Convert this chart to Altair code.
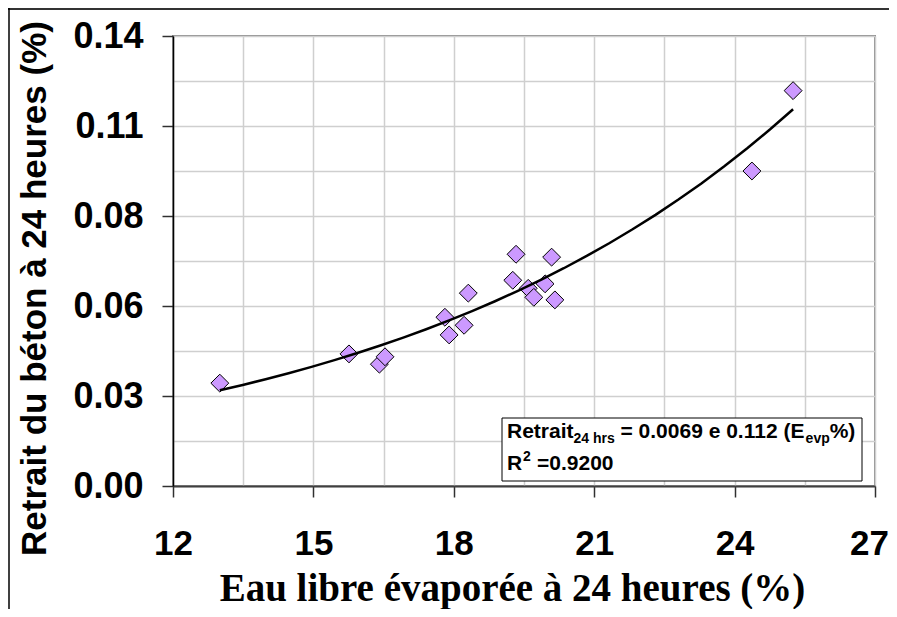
import altair as alt
import pandas as pd

# Data
evap = [13.00, 15.76, 16.41, 16.53, 17.81, 17.90, 18.22, 18.31, 19.26, 19.33,
        19.59, 19.71, 19.95, 20.09, 20.16, 24.37, 25.25]
retrait = [0.0320, 0.0411, 0.0379, 0.0402, 0.0525, 0.0470, 0.0500, 0.0600, 0.0640,
           0.0721, 0.0615, 0.0587, 0.0629, 0.0712, 0.0579, 0.0980, 0.1230]

x_grid_values = [12, 13.5, 15, 16.5, 18, 19.5, 21, 22.5, 24, 25.5, 27]
y_grid_values = [0.0, 0.014, 0.028, 0.042, 0.056, 0.07, 0.084, 0.098, 0.112, 0.126, 0.14]

x_title = "Eau libre évaporée à 24 heures (%)"
y_title = "Retrait du béton à 24 heures (%)"

eq_main = "Retrait"
eq_sub = "24 hrs"
eq_mid = "= 0.0069 e 0.112 (E"
eq_sub2 = "evp"
eq_end = "%)"
r2_main = "R"
r2_sup = "2"
r2_val = "=0.9200"

df = pd.DataFrame({"evap": evap, "retrait": retrait})

SANS = "Liberation Sans, Arial, Helvetica, sans-serif"
SERIF = "Liberation Serif, Times New Roman, serif"

MAJOR_Y = "abs(datum.value / 0.028 - round(datum.value / 0.028)) < 0.001"

x_enc = alt.X(
    "evap:Q",
    scale=alt.Scale(domain=[12, 27], nice=False, zero=False),
    axis=alt.Axis(
        values=x_grid_values,
        title=x_title,
        titleFont=SERIF,
        titleFontSize=39,
        titleFontWeight="bold",
        titleColor="black",
        titleBaseline="alphabetic",
        titleY=114,
        titleX=339,
        labelExpr="datum.value % 3 === 0 ? format(datum.value, 'd') : ''",
        labelFont=SANS,
        labelFontSize=35,
        labelFontWeight="bold",
        labelColor="black",
        labelBaseline="alphabetic",
        labelPadding=57,
        labelOverlap=False,
        labelFlush=False,
        labelOffset={"condition": {"test": "datum.value >= 27", "value": -6}, "value": 0},
        tickSize=11,
        tickColor="#303030",
        tickWidth=1.5,
        tickOpacity={"condition": {"test": "datum.value % 3 === 0", "value": 1}, "value": 0},
        domainColor="#404040",
        domainWidth=2,
        grid=True,
        gridColor="#cfcfcf",
        gridWidth=1.5,
    ),
)

y_enc = alt.Y(
    "retrait:Q",
    scale=alt.Scale(domain=[0, 0.14], nice=False, zero=True),
    axis=alt.Axis(
        values=y_grid_values,
        title=y_title,
        titleFont=SANS,
        titleFontSize=35,
        titleFontWeight="bold",
        titleColor="black",
        titleBaseline="alphabetic",
        titleAngle=270,
        titleX=-128,
        titleY=252,
        labelExpr=MAJOR_Y + " ? format(datum.value, '.2f') : ''",
        labelFont=SANS,
        labelFontSize=36,
        labelFontWeight="bold",
        labelColor="black",
        labelPadding=19,
        labelOverlap=False,
        labelFlush=False,
        tickSize=11,
        tickColor="#303030",
        tickWidth=1.5,
        tickOpacity={"condition": {"test": MAJOR_Y, "value": 1}, "value": 0},
        domainColor="black",
        domainWidth=1.5,
        grid=True,
        gridColor="#cfcfcf",
        gridWidth=1.5,
    ),
)

points = alt.Chart(df).mark_point(
    shape="diamond", filled=True, fill="#cc99ff", stroke="black",
    strokeWidth=1, size=320, opacity=1
).encode(x=x_enc, y=y_enc)

trend = alt.Chart(df).transform_regression(
    "evap", "retrait", method="exp"
).mark_line(color="black", strokeWidth=2.5).encode(x=x_enc, y=y_enc)

one = pd.DataFrame({"a": [0]})

box = alt.Chart(one).mark_rect(fill="white", stroke="black", strokeWidth=1).encode(
    x=alt.value(329), x2=alt.value(689), y=alt.value(382), y2=alt.value(445)
)


def txt(s, x, y, size):
    return alt.Chart(one).mark_text(
        text=s, font=SANS, fontSize=size, fontWeight="bold", color="black",
        align="left", baseline="alphabetic"
    ).encode(x=alt.value(x), y=alt.value(y))


texts = [
    txt(eq_main, 334, 402, 21),
    txt(eq_sub, 400.5, 407, 14),
    txt(eq_mid, 447.5, 402, 21),
    txt(eq_sub2, 632.6, 407, 14),
    txt(eq_end, 656.7, 402, 21),
    txt(r2_main, 334, 434, 21),
    txt(r2_sup, 350, 425, 14),
    txt(r2_val, 364, 434, 21),
]

frame_top = alt.Chart(one).mark_rule(color="#333333", strokeWidth=2).encode(
    x=alt.value(-165), x2=alt.value(716), y=alt.value(-27)
)
frame_left = alt.Chart(one).mark_rule(color="black", strokeWidth=1.5).encode(
    x=alt.value(-164), y=alt.value(-28), y2=alt.value(580)
)

chart = alt.layer(points, trend, box, *texts, frame_top, frame_left).properties(
    width=702,
    height=450,
    padding={"left": 165, "top": 28, "right": 14, "bottom": 123},
    autosize=alt.AutoSizeParams(type="none"),
    background="white",
).configure_view(stroke="#8c8c8c", strokeWidth=2)

chart.save("out.html", embed_options={"renderer": "svg", "actions": False})
